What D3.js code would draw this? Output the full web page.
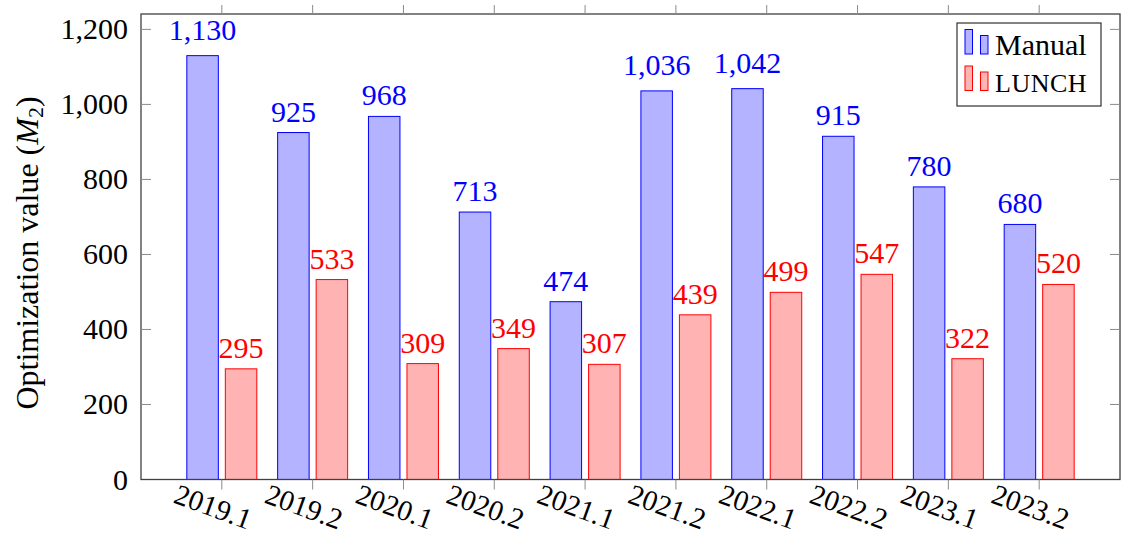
<!DOCTYPE html>
<html>
<head>
<meta charset="utf-8">
<script src="https://cdn.jsdelivr.net/npm/d3@7"></script>
<style>
  html, body { margin: 0; padding: 0; background: #fff; }
  svg { display: block; }
  text { font-family: "Liberation Serif", "Times New Roman", serif; }
</style>
</head>
<body>
<svg id="chart" width="1121" height="538"></svg>
<script>
// Semesters on the x axis
const categories = ["2019.1", "2019.2", "2020.1", "2020.2", "2021.1",
                    "2021.2", "2022.1", "2022.2", "2023.1", "2023.2"];
// Optimization value M2 per semester
const manualValues = [1130, 925, 968, 713, 474, 1036, 1042, 915, 780, 680];
const lunchValues  = [295, 533, 309, 349, 307, 439, 499, 547, 322, 520];
const seriesNames = ["Manual", "LUNCH"];
const yTicks = [0, 200, 400, 600, 800, 1000, 1200];

const series = [
  { name: seriesNames[0], values: manualValues, stroke: "#0000ff", fill: "#b3b3ff" },
  { name: seriesNames[1], values: lunchValues,  stroke: "#ff0000", fill: "#ffb3b3" }
];

const svg = d3.select("#chart");
const plot = { left: 141, right: 1120, top: 14, bottom: 479.5 };
const fontSize = 30;

const x = d3.scalePoint().domain(categories)
  .range([plot.left, plot.right]).padding(0.89);
const xSub = d3.scaleBand().domain(seriesNames)
  .range([-35, 35]).paddingInner(0.182);
const y = d3.scaleLinear().domain([0, 1241])
  .range([plot.bottom, plot.top]);
const fmt = d3.format(",");

// Bars
series.forEach(s => {
  svg.append("g").selectAll("rect")
    .data(s.values)
    .join("rect")
    .attr("x", (d, i) => x(categories[i]) + xSub(s.name))
    .attr("y", d => y(d))
    .attr("width", xSub.bandwidth())
    .attr("height", d => y(0) - y(d))
    .attr("fill", s.fill)
    .attr("stroke", s.stroke)
    .attr("stroke-width", 1);
});

// Value labels above bars (comma labels sit higher because of the comma's depth)
series.forEach(s => {
  svg.append("g").selectAll("text")
    .data(s.values)
    .join("text")
    .attr("x", (d, i) => x(categories[i]) + xSub(s.name) + xSub.bandwidth() / 2)
    .attr("y", d => y(d) - (d >= 1000 ? 16 : 11))
    .attr("text-anchor", "middle")
    .attr("font-size", fontSize)
    .attr("fill", s.stroke)
    .text(d => fmt(d));
});

// Frame
svg.append("rect")
  .attr("x", plot.left).attr("y", plot.top)
  .attr("width", plot.right - plot.left).attr("height", plot.bottom - plot.top)
  .attr("fill", "none").attr("stroke", "#404040").attr("stroke-width", 1.3);

// Y axis ticks (inward on both sides) and labels
const yAxis = svg.append("g");
yTicks.forEach(t => {
  const yy = y(t);
  if (t > 0) {
    yAxis.append("line").attr("x1", plot.left).attr("x2", plot.left + 10)
      .attr("y1", yy).attr("y2", yy).attr("stroke", "#8a8a8a").attr("stroke-width", 1);
    yAxis.append("line").attr("x1", plot.right - 10).attr("x2", plot.right)
      .attr("y1", yy).attr("y2", yy).attr("stroke", "#8a8a8a").attr("stroke-width", 1);
  }
  yAxis.append("text")
    .attr("x", 128).attr("y", yy + 10)
    .attr("text-anchor", "end")
    .attr("font-size", fontSize)
    .attr("fill", "#000")
    .text(fmt(t));
});

// X axis ticks (outward at top and bottom) and rotated labels
const xAxis = svg.append("g");
categories.forEach(c => {
  const xx = x(c);
  xAxis.append("line").attr("x1", xx).attr("x2", xx)
    .attr("y1", plot.bottom).attr("y2", plot.bottom + 10)
    .attr("stroke", "#8a8a8a").attr("stroke-width", 1);
  xAxis.append("line").attr("x1", xx).attr("x2", xx)
    .attr("y1", plot.top - 9).attr("y2", plot.top)
    .attr("stroke", "#8a8a8a").attr("stroke-width", 1);
  xAxis.append("text")
    .attr("transform", `translate(${xx - 12},516) rotate(20)`)
    .attr("text-anchor", "middle")
    .attr("font-size", 29)
    .attr("fill", "#000")
    .text(c);
});

// Y axis title
const yTitle = svg.append("text")
  .attr("transform", "translate(38,253) rotate(-90)")
  .attr("text-anchor", "middle")
  .attr("font-size", 32)
  .attr("fill", "#000");
yTitle.append("tspan").text("Optimization value (");
yTitle.append("tspan").attr("font-style", "italic").text("M");
yTitle.append("tspan").attr("font-size", 22).attr("dy", 5).text("2");
yTitle.append("tspan").attr("dy", -5).text(")");

// Legend
const legend = svg.append("g");
legend.append("rect")
  .attr("x", 957).attr("y", 23).attr("width", 144).attr("height", 83)
  .attr("fill", "#fff").attr("stroke", "#303030").attr("stroke-width", 1.2);
const legendRows = [
  { s: series[0], base: 54, size: fontSize, spacing: 0 },
  { s: series[1], base: 90.5, size: 26, spacing: 0.5 }
];
legendRows.forEach(r => {
  legend.append("rect").attr("x", 965).attr("y", r.base - 24.5)
    .attr("width", 7.5).attr("height", 24.5)
    .attr("fill", r.s.fill).attr("stroke", r.s.stroke).attr("stroke-width", 1);
  legend.append("rect").attr("x", 980.5).attr("y", r.base - 18.5)
    .attr("width", 7.5).attr("height", 18.5)
    .attr("fill", r.s.fill).attr("stroke", r.s.stroke).attr("stroke-width", 1);
  legend.append("text").attr("x", 995).attr("y", r.base + 1)
    .attr("font-size", r.size)
    .attr("letter-spacing", r.spacing)
    .attr("fill", "#000")
    .text(r.s.name);
});
</script>
</body>
</html>
